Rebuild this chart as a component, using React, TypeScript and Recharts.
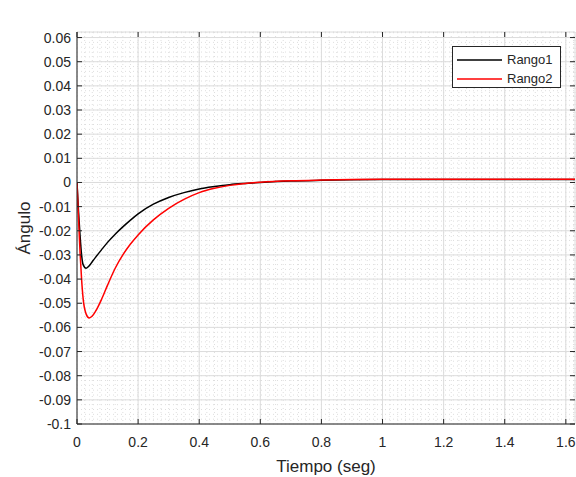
import React from "react";
import {
  LineChart,
  Line,
  XAxis,
  YAxis,
  CartesianGrid,
  Label,
} from "recharts";

// time samples (s) and the two responses
const TIME = [
  0, 0.005, 0.01, 0.015, 0.02, 0.03, 0.04, 0.05, 0.06, 0.08, 0.1, 0.125, 0.15,
  0.175, 0.2, 0.25, 0.3, 0.35, 0.4, 0.45, 0.5, 0.55, 0.6, 0.7, 0.8, 0.9, 1.0,
  1.2, 1.4, 1.63,
];
const RANGO1 = [
  0, -0.012, -0.022, -0.03, -0.034, -0.0355, -0.0345, -0.0328, -0.0311,
  -0.0279, -0.0248, -0.0214, -0.0184, -0.0156, -0.013, -0.009, -0.0062,
  -0.0042, -0.0027, -0.0017, -0.0009, -0.0004, 0.0, 0.0006, 0.0009, 0.0011,
  0.0012, 0.0012, 0.0012, 0.0012,
];
const RANGO2 = [
  0, -0.015, -0.029, -0.04, -0.048, -0.0545, -0.0561, -0.0553, -0.0535,
  -0.0485, -0.0425, -0.0355, -0.03, -0.0255, -0.0217, -0.0155, -0.0107,
  -0.007, -0.0042, -0.0024, -0.0012, -0.0004, 0.0001, 0.0007, 0.001, 0.0012,
  0.0013, 0.0013, 0.0013, 0.0013,
];

const SERIES_NAMES = ["Rango1", "Rango2"];
const SERIES_COLORS = ["#000000", "#ff0000"];

const X_TICKS = [0, 0.2, 0.4, 0.6, 0.8, 1, 1.2, 1.4, 1.6];
const Y_TICKS = [
  -0.1, -0.09, -0.08, -0.07, -0.06, -0.05, -0.04, -0.03, -0.02, -0.01, 0, 0.01,
  0.02, 0.03, 0.04, 0.05, 0.06,
];
const X_DOMAIN = [0, 1.63];
const Y_DOMAIN = [-0.1, 0.0623];

// minor grid spacing (matlab "grid minor")
const MINOR_X = Array.from({ length: 66 }, (_, i) => Math.round(i * 25) / 1000);
const MINOR_Y = Array.from({ length: 82 }, (_, i) => Math.round(-100 + i * 2) / 1000);

const data = TIME.map((t, i) => ({ t, r1: RANGO1[i], r2: RANGO2[i] }));

const W = 576;
const H = 477;
const TOP = 32;
const BOTTOM = 424;
const LEFT = 77;
const RIGHT = 575;
const AXIS = "#262626";
const FONT = '"Liberation Sans", Arial, sans-serif';

const XTick = (props: any) => {
  const { x, payload } = props;
  return (
    <g>
      <line x1={x} x2={x} y1={BOTTOM} y2={BOTTOM - 5} stroke={AXIS} />
      <line x1={x} x2={x} y1={TOP} y2={TOP + 5} stroke={AXIS} />
      <text x={x} y={BOTTOM + 23} textAnchor="middle" fontSize={14} fill={AXIS} fontFamily={FONT}>
        {String(payload.value)}
      </text>
    </g>
  );
};

const YTick = (props: any) => {
  const { y, payload } = props;
  return (
    <g>
      <line x1={LEFT} x2={LEFT + 5} y1={y} y2={y} stroke={AXIS} />
      <line x1={RIGHT} x2={RIGHT - 5} y1={y} y2={y} stroke={AXIS} />
      <text x={LEFT - 6} y={y + 5} textAnchor="end" fontSize={14} fill={AXIS} fontFamily={FONT}>
        {String(payload.value)}
      </text>
    </g>
  );
};

const LegendBox = () => (
  <div
    style={{
      position: "absolute",
      left: 452,
      top: 46,
      border: `1px solid ${AXIS}`,
      background: "#fff",
      width: 107,
      height: 37,
      paddingTop: 3,
      fontFamily: FONT,
      fontSize: 13,
      color: AXIS,
    }}
  >
    {SERIES_NAMES.map((name, i) => (
      <div key={name} style={{ display: "flex", alignItems: "center", height: 19 }}>
        <svg width={45} height={4} style={{ marginLeft: 4 }}>
          <line x1={0} x2={45} y1={2} y2={2} stroke={SERIES_COLORS[i]} strokeWidth={1.5} />
        </svg>
        <span style={{ marginLeft: 5 }}>{name}</span>
      </div>
    ))}
  </div>
);

export default function App() {
  return (
    <div style={{ position: "absolute", left: 0, top: 0, width: W, height: H, background: "#fff" }}>
      <LineChart
        width={W}
        height={H}
        data={data}
        margin={{ top: TOP, right: W - RIGHT, bottom: 0, left: 0 }}
      >
        {/* hidden axes that only carry the minor grid */}
        <XAxis xAxisId="minor" type="number" dataKey="t" domain={X_DOMAIN} ticks={MINOR_X} interval={0} hide allowDataOverflow />
        <YAxis yAxisId="minor" type="number" domain={Y_DOMAIN} ticks={MINOR_Y} interval={0} hide allowDataOverflow />
        <CartesianGrid xAxisId="minor" yAxisId="minor" stroke="#dedede" strokeDasharray="1 3" />
        <CartesianGrid stroke="#dcdcdc" />

        <XAxis
          type="number"
          dataKey="t"
          domain={X_DOMAIN}
          ticks={X_TICKS}
          interval={0}
          height={H - BOTTOM}
          tick={<XTick />}
          tickLine={false}
          axisLine={{ stroke: AXIS }}
          allowDataOverflow
        >
          <Label
            content={(p: any) => (
              <text
                x={p.viewBox.x + p.viewBox.width / 2}
                y={p.viewBox.y + 48}
                textAnchor="middle"
                fontSize={17}
                fill={AXIS}
                fontFamily={FONT}
              >
                Tiempo (seg)
              </text>
            )}
          />
        </XAxis>
        <YAxis
          type="number"
          domain={Y_DOMAIN}
          ticks={Y_TICKS}
          interval={0}
          width={LEFT}
          tick={<YTick />}
          tickLine={false}
          axisLine={{ stroke: AXIS }}
          allowDataOverflow
        >
          <Label
            content={(p: any) => {
              const cy = p.viewBox.y + p.viewBox.height / 2;
              return (
                <text
                  x={30}
                  y={cy}
                  transform={`rotate(-90, 30, ${cy})`}
                  textAnchor="middle"
                  fontSize={17}
                  fill={AXIS}
                  fontFamily={FONT}
                >
                  Ángulo
                </text>
              );
            }}
          />
        </YAxis>

        {/* box: top and right borders */}
        <XAxis xAxisId="top" orientation="top" type="number" domain={X_DOMAIN} height={0} tick={false} tickLine={false} axisLine={{ stroke: AXIS }} allowDataOverflow>
          <Label
            content={(p: any) => (
              <text
                x={p.viewBox.x + p.viewBox.width / 2}
                y={23}
                textAnchor="middle"
                fontSize={17}
                fontWeight="bold"
                fill="#000"
                fontFamily={FONT}
              >
                Respuesta en Lazo Cerrado con PID-FA
              </text>
            )}
          />
        </XAxis>
        <YAxis yAxisId="right" orientation="right" type="number" domain={Y_DOMAIN} width={0} tick={false} tickLine={false} axisLine={{ stroke: AXIS }} allowDataOverflow />

        <Line type="monotone" dataKey="r1" name={SERIES_NAMES[0]} stroke={SERIES_COLORS[0]} strokeWidth={1.5} dot={false} isAnimationActive={false} />
        <Line type="monotone" dataKey="r2" name={SERIES_NAMES[1]} stroke={SERIES_COLORS[1]} strokeWidth={1.5} dot={false} isAnimationActive={false} />
      </LineChart>
      <LegendBox />
    </div>
  );
}
